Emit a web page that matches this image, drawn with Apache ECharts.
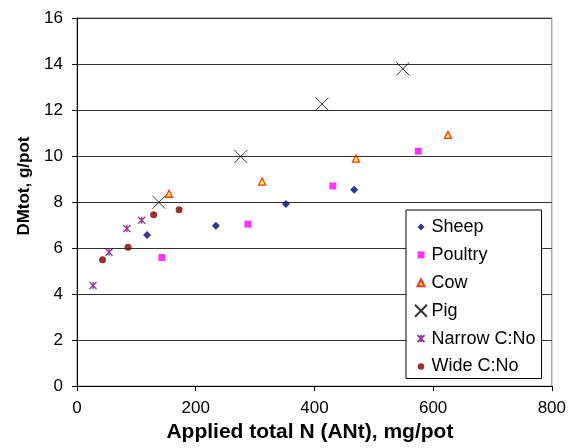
<!DOCTYPE html>
<html><head><meta charset="utf-8">
<script src="https://cdn.jsdelivr.net/npm/echarts@6/dist/echarts.min.js"></script>
<style>html,body{margin:0;padding:0;background:#fff}#c{width:569px;height:448px}</style>
</head><body><div id="c"></div>
<script>
const sheepX = [118, 234, 352, 467];
const sheepY = [6.57, 6.97, 7.91, 8.53];
const poultryX = [143, 288, 431, 575];
const poultryY = [5.59, 7.04, 8.70, 10.21];
const cowX = [155, 312, 470, 625];
const cowY = [8.36, 8.89, 9.89, 10.92];
const pigX = [138, 276, 413, 549];
const pigY = [7.99, 9.98, 12.26, 13.79];
const narrowX = [27, 54, 84, 109];
const narrowY = [4.37, 5.82, 6.85, 7.21];
const wideX = [43, 86, 129, 172];
const wideY = [5.49, 6.03, 7.45, 7.66];
const xTicks = [0, 200, 400, 600, 800];
const yTicks = [0, 2, 4, 6, 8, 10, 12, 14, 16];
const seriesNames = ['Sheep', 'Poultry', 'Cow', 'Pig', 'Narrow C:No', 'Wide C:No'];

const pair = (xs, ys) => xs.map((x, i) => [x, ys[i]]);
const FONT = 'Liberation Sans';
const crossPath = 'path://M0,0L10,10M10,0L0,10';
const starPath = 'path://M0,0L10,10M10,0L0,10M5,0L5,10';
// legend icons: padded to a 26-unit box so they render smaller than the box
const legendIcons = [
  'path://M0,0L0,0M26,26L26,26M13,6L20,13L13,20L6,13Z',
  'path://M0,0L0,0M26,26L26,26M6,6L20,6L20,20L6,20Z',
  'path://M0,0L0,0M26,26L26,26M13,6L20,20L6,20Z',
  'path://M0,0L0,0M26,26L26,26M1,1L25,25M25,1L1,25',
  'path://M0,0L0,0M26,26L26,26M6,6L20,20M20,6L6,20M13,6L13,20',
  'path://M0,0L0,0M26,26L26,26M6.5,13A6.5,6.5,0,1,1,19.5,13A6.5,6.5,0,1,1,6.5,13Z'
];

const chart = echarts.init(document.getElementById('c'), null, {renderer: 'canvas'});
chart.setOption({
  animation: false,
  backgroundColor: '#fff',
  textStyle: {fontFamily: FONT},
  grid: {left: 77, right: 16, top: 18, bottom: 58, show: true, borderColor: '#808080', borderWidth: 1},
  xAxis: {
    type: 'value', min: xTicks[0], max: xTicks[xTicks.length - 1], interval: 200,
    name: 'Applied total N (ANt), mg/pot', nameLocation: 'middle', nameGap: 35,
    nameTextStyle: {fontFamily: FONT, fontSize: 21, fontWeight: 'bold', color: '#000', padding: [0, 9, 0, 0]},
    axisLine: {show: true, onZero: false, lineStyle: {color: '#000', width: 1}},
    axisTick: {show: true, inside: false, length: 5, lineStyle: {color: '#000'}},
    axisLabel: {fontFamily: FONT, fontSize: 17, color: '#000', margin: 14},
    splitLine: {show: false}
  },
  yAxis: {
    type: 'value', min: yTicks[0], max: yTicks[yTicks.length - 1], interval: 2,
    name: 'DMtot, g/pot', nameLocation: 'middle', nameGap: 41,
    nameTextStyle: {fontFamily: FONT, fontSize: 17, fontWeight: 'bold', color: '#000', padding: [0, 0, 0, 32]},
    axisLine: {show: true, onZero: false, lineStyle: {color: '#000', width: 1}},
    axisTick: {show: true, inside: false, length: 5, lineStyle: {color: '#000'}},
    axisLabel: {fontFamily: FONT, fontSize: 17, color: '#000', margin: 14},
    splitLine: {show: true, lineStyle: {color: '#333', width: 1}}
  },
  legend: {
    orient: 'vertical', left: 406, top: 210,
    backgroundColor: '#fff', borderColor: '#000', borderWidth: 1,
    padding: [8, 6, 3, 6], itemWidth: 13, itemHeight: 13, itemGap: 9.9,
    textStyle: {fontFamily: FONT, fontSize: 18, lineHeight: 18, color: '#000', padding: [0, 0, 0, -1]},
    data: seriesNames.map((n, i) => ({name: n, icon: legendIcons[i]}))
  },
  series: [
    {name: seriesNames[0], type: 'scatter', data: pair(sheepX, sheepY), symbol: 'diamond', symbolSize: [8, 8],
     itemStyle: {color: '#000080'}},
    {name: seriesNames[1], type: 'scatter', data: pair(poultryX, poultryY), symbol: 'rect', symbolSize: 7,
     itemStyle: {color: '#ff00ff'}},
    {name: seriesNames[2], type: 'scatter', data: pair(cowX, cowY), symbol: 'triangle', symbolSize: 7,
     itemStyle: {color: '#ffff00', borderColor: '#ff0000', borderWidth: 1.3}},
    {name: seriesNames[3], type: 'scatter', data: pair(pigX, pigY), symbol: crossPath, symbolSize: 13,
     itemStyle: {color: 'none', borderColor: '#000', borderWidth: 1}},
    {name: seriesNames[4], type: 'scatter', data: pair(narrowX, narrowY), symbol: starPath, symbolSize: 7,
     itemStyle: {color: 'none', borderColor: '#800080', borderWidth: 1.3}},
    {name: seriesNames[5], type: 'scatter', data: pair(wideX, wideY), symbol: 'circle', symbolSize: 7,
     itemStyle: {color: '#800000'}}
  ]
});
</script></body></html>
